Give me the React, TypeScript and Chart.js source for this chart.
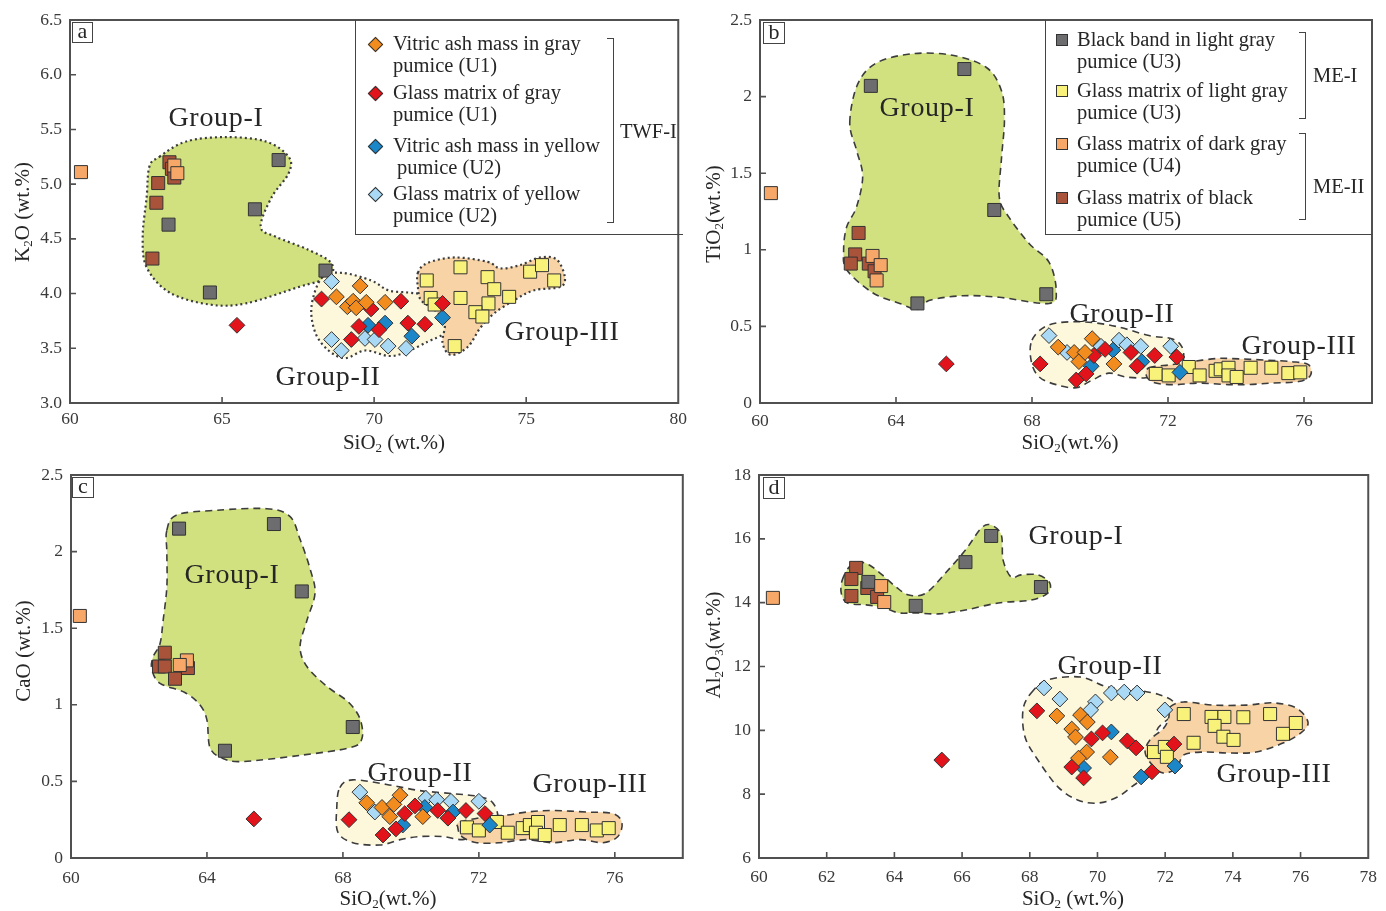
import React, { useEffect, useRef } from 'react';
import { Chart, registerables } from 'chart.js';

Chart.register(...registerables);
Chart.defaults.font.family = "'Liberation Serif', 'Times New Roman', serif";

type P = [number, number];

// ---------------- Series labels ----------------
const SERIES_LABELS = [
  'Vitric ash mass in gray pumice (U1)',
  'Glass matrix of gray pumice (U1)',
  'Vitric ash mass in yellow pumice (U2)',
  'Glass matrix of yellow pumice (U2)',
  'Glass matrix of dark gray pumice (U4)',
  'Glass matrix of light gray pumice (U3)',
  'Black band in light gray pumice (U3)',
  'Glass matrix of black pumice (U5)',
];
const SERIES_SHAPES = ['rectRot', 'rectRot', 'rectRot', 'rectRot', 'rect', 'rect', 'rect', 'rect'];
const SERIES_COLORS = ['#f28c1e', '#e3131b', '#1b87c9', '#a9d9f5', '#f7a868', '#f9f27a', '#6d6d70', '#a9533a'];

// ---------------- Panel a : K2O vs SiO2 ----------------
const A_X_TICKS = [60, 65, 70, 75, 80];
const A_X_LABELS = ['60', '65', '70', '75', '80'];
const A_Y_TICKS = [3.0, 3.5, 4.0, 4.5, 5.0, 5.5, 6.0, 6.5];
const A_Y_LABELS = ['3.0', '3.5', '4.0', '4.5', '5.0', '5.5', '6.0', '6.5'];
const A_ORANGE: P[] = [[69.54, 4.07], [68.76, 3.97], [69.12, 3.88], [69.31, 3.93], [69.41, 3.87], [69.74, 3.92], [70.36, 3.92]];
const A_RED: P[] = [[65.49, 3.71], [68.27, 3.95], [69.9, 3.86], [70.88, 3.93], [69.5, 3.70], [70.16, 3.67], [71.11, 3.73], [71.67, 3.72], [69.25, 3.58], [72.25, 3.91]];
const A_BLUE: P[] = [[69.8, 3.71], [70.36, 3.73], [71.24, 3.61], [72.25, 3.78]];
const A_LIGHTBLUE: P[] = [[68.6, 4.11], [68.6, 3.58], [68.92, 3.48], [69.7, 3.59], [70.03, 3.58], [70.46, 3.52], [71.05, 3.50]];
const A_LIGHTORANGE: P[] = [[60.36, 5.11], [63.43, 5.17], [63.53, 5.10]];
const A_YELLOW: P[] = [[71.73, 4.12], [72.84, 4.24], [73.73, 4.15], [73.95, 4.04], [75.13, 4.20], [75.52, 4.26], [75.92, 4.12], [74.44, 3.97], [72.84, 3.96], [71.86, 3.96], [71.99, 3.90], [73.76, 3.91], [73.33, 3.83], [73.56, 3.79], [72.65, 3.52]];
const A_GRAY: P[] = [[66.86, 5.22], [66.08, 4.77], [63.24, 4.63], [64.6, 4.01], [68.4, 4.21]];
const A_BROWN: P[] = [[63.27, 5.20], [63.35, 5.14], [63.43, 5.06], [62.9, 5.01], [62.84, 4.83], [62.71, 4.32]];
const A_GROUP1: P[] = [[62.94, 5.25], [63.82, 5.39], [65.13, 5.43], [66.44, 5.39], [67.19, 5.25], [67.19, 5.10], [66.63, 4.88], [66.27, 4.61], [66.76, 4.52], [67.84, 4.40], [68.59, 4.28], [68.50, 4.15], [67.52, 4.06], [65.78, 3.91], [64.58, 3.90], [63.27, 4.01], [62.52, 4.24], [62.39, 4.52], [62.52, 4.88], [62.61, 5.16]];
const A_GROUP2: P[] = [[68.27, 4.14], [68.92, 4.19], [69.90, 4.12], [70.46, 4.03], [71.11, 4.01], [71.67, 3.99], [72.25, 3.94], [72.58, 3.78], [72.32, 3.64], [71.76, 3.56], [71.01, 3.46], [70.46, 3.43], [69.71, 3.48], [69.05, 3.41], [68.50, 3.48], [68.07, 3.64], [67.94, 3.88]];
const A_GROUP3: P[] = [[71.44, 4.19], [71.76, 4.28], [72.65, 4.33], [73.73, 4.29], [74.15, 4.23], [74.80, 4.26], [75.46, 4.33], [76.01, 4.31], [76.27, 4.15], [76.11, 4.06], [75.26, 4.03], [74.61, 3.94], [73.95, 3.82], [73.50, 3.69], [73.07, 3.51], [72.52, 3.44], [72.25, 3.55], [72.32, 3.73], [71.99, 3.85], [71.54, 3.94], [71.44, 4.06]];

// ---------------- Panel b : TiO2 vs SiO2 ----------------
const B_X_TICKS = [60, 64, 68, 72, 76];
const B_X_LABELS = ['60', '64', '68', '72', '76'];
const B_Y_TICKS = [0, 0.5, 1, 1.5, 2, 2.5];
const B_Y_LABELS = ['0', '0.5', '1', '1.5', '2', '2.5'];
const B_ORANGE: P[] = [[68.77, 0.365], [69.24, 0.33], [69.38, 0.27], [69.56, 0.33], [69.77, 0.42], [70.41, 0.255]];
const B_RED: P[] = [[65.48, 0.255], [68.24, 0.255], [69.30, 0.15], [69.59, 0.19], [69.82, 0.31], [70.15, 0.35], [70.91, 0.33], [71.09, 0.24], [71.61, 0.31], [72.26, 0.30]];
const B_BLUE: P[] = [[69.74, 0.24], [70.38, 0.345], [71.23, 0.27], [72.35, 0.20]];
const B_LIGHTBLUE: P[] = [[68.5, 0.44], [69.03, 0.33], [70.03, 0.37], [70.56, 0.41], [70.79, 0.38], [71.2, 0.37], [72.08, 0.37]];
const B_LIGHTORANGE: P[] = [[60.32, 1.37], [63.31, 0.96], [63.55, 0.90], [63.43, 0.80]];
const B_YELLOW: P[] = [[71.64, 0.19], [72.02, 0.18], [72.61, 0.235], [72.93, 0.18], [73.40, 0.21], [73.55, 0.22], [73.78, 0.23], [73.78, 0.18], [74.02, 0.17], [74.43, 0.23], [75.04, 0.23], [75.54, 0.195], [75.89, 0.20]];
const B_GRAY: P[] = [[63.26, 2.07], [66.01, 2.18], [66.89, 1.26], [64.63, 0.65], [68.42, 0.71]];
const B_BROWN: P[] = [[62.9, 1.11], [62.8, 0.97], [62.67, 0.91], [63.2, 0.91], [63.37, 0.86]];
const B_GROUP1: P[] = [[62.64, 1.83], [62.87, 2.08], [63.43, 2.22], [64.49, 2.28], [65.66, 2.27], [66.66, 2.19], [67.10, 2.04], [67.19, 1.85], [67.10, 1.59], [67.04, 1.34], [67.33, 1.21], [67.92, 1.04], [68.50, 0.92], [68.71, 0.74], [68.50, 0.65], [67.04, 0.69], [65.95, 0.70], [64.99, 0.67], [64.63, 0.61], [64.11, 0.65], [63.31, 0.72], [62.55, 0.87], [62.46, 1.00], [62.55, 1.15], [62.84, 1.28], [63.02, 1.48], [62.84, 1.65]];
const B_GROUP2: P[] = [[68.0, 0.41], [68.5, 0.51], [69.47, 0.53], [70.47, 0.50], [71.44, 0.44], [72.11, 0.42], [72.40, 0.37], [72.46, 0.29], [72.32, 0.235], [71.82, 0.195], [71.35, 0.165], [70.76, 0.17], [70.26, 0.195], [69.77, 0.15], [69.30, 0.10], [68.71, 0.12], [68.21, 0.17], [67.98, 0.27]];
const B_GROUP3: P[] = [[71.44, 0.23], [72.11, 0.25], [72.70, 0.27], [73.40, 0.29], [73.87, 0.29], [74.87, 0.28], [75.63, 0.27], [76.13, 0.25], [76.19, 0.18], [75.84, 0.14], [75.04, 0.13], [74.37, 0.12], [73.78, 0.12], [72.90, 0.13], [72.23, 0.12], [71.64, 0.13], [71.38, 0.17]];

// ---------------- Panel c : CaO vs SiO2 ----------------
const C_X_TICKS = [60, 64, 68, 72, 76];
const C_X_LABELS = ['60', '64', '68', '72', '76'];
const C_Y_TICKS = [0, 0.5, 1, 1.5, 2, 2.5];
const C_Y_LABELS = ['0', '0.5', '1', '1.5', '2', '2.5'];
const C_ORANGE: P[] = [[68.7, 0.36], [69.15, 0.33], [69.38, 0.27], [69.5, 0.35], [69.68, 0.41], [70.35, 0.27]];
const C_RED: P[] = [[65.38, 0.255], [68.18, 0.25], [69.18, 0.15], [69.56, 0.19], [69.82, 0.29], [70.12, 0.34], [70.79, 0.31], [71.09, 0.26], [71.62, 0.31], [72.18, 0.29]];
const C_BLUE: P[] = [[69.76, 0.215], [70.41, 0.33], [71.24, 0.30], [72.32, 0.215]];
const C_LIGHTBLUE: P[] = [[68.5, 0.43], [68.94, 0.30], [70.44, 0.39], [70.76, 0.38], [71.18, 0.37], [72.0, 0.37]];
const C_LIGHTORANGE: P[] = [[60.26, 1.58], [63.41, 1.29], [63.2, 1.26]];
const C_YELLOW: P[] = [[71.65, 0.20], [72.0, 0.18], [72.53, 0.235], [72.85, 0.165], [73.29, 0.195], [73.5, 0.215], [73.74, 0.235], [73.68, 0.165], [73.94, 0.15], [74.38, 0.215], [75.03, 0.215], [75.47, 0.18], [75.82, 0.195]];
const C_GRAY: P[] = [[63.18, 2.15], [65.97, 2.18], [66.79, 1.74], [64.53, 0.70], [68.29, 0.855]];
const C_BROWN: P[] = [[62.76, 1.34], [62.59, 1.25], [62.76, 1.25], [63.06, 1.17], [63.44, 1.24]];
const C_GROUP1: P[] = [[62.82, 2.14], [63.12, 2.24], [64.29, 2.27], [65.76, 2.28], [66.44, 2.23], [66.74, 2.08], [67.03, 1.89], [67.18, 1.73], [66.94, 1.55], [66.74, 1.38], [66.94, 1.25], [67.53, 1.12], [68.15, 1.02], [68.5, 0.91], [68.56, 0.78], [68.21, 0.72], [66.74, 0.67], [65.06, 0.63], [64.47, 0.65], [64.09, 0.72], [64.0, 0.90], [63.79, 1.00], [63.35, 1.08], [62.62, 1.14], [62.38, 1.23], [62.41, 1.31], [62.62, 1.40], [62.71, 1.55], [62.82, 1.77], [62.82, 1.99]];
const C_GROUP2: P[] = [[67.91, 0.46], [68.29, 0.51], [69.29, 0.48], [70.26, 0.44], [71.24, 0.42], [72.03, 0.40], [72.41, 0.36], [72.56, 0.27], [72.41, 0.20], [71.94, 0.16], [71.53, 0.12], [70.94, 0.14], [70.26, 0.14], [69.68, 0.12], [69.09, 0.085], [68.29, 0.10], [67.85, 0.17], [67.82, 0.33]];
const C_GROUP3: P[] = [[71.44, 0.235], [72.24, 0.27], [72.82, 0.28], [73.41, 0.30], [74.18, 0.31], [75.18, 0.30], [75.94, 0.29], [76.21, 0.23], [76.09, 0.14], [75.65, 0.10], [74.97, 0.12], [74.18, 0.10], [73.41, 0.12], [72.62, 0.10], [71.94, 0.10], [71.5, 0.14], [71.38, 0.20]];

// ---------------- Panel d : Al2O3 vs SiO2 ----------------
const D_X_TICKS = [60, 62, 64, 66, 68, 70, 72, 74, 76, 78];
const D_X_LABELS = ['60', '62', '64', '66', '68', '70', '72', '74', '76', '78'];
const D_Y_TICKS = [6, 8, 10, 12, 14, 16, 18];
const D_Y_LABELS = ['6', '8', '10', '12', '14', '16', '18'];
const D_ORANGE: P[] = [[68.8, 10.45], [69.5, 10.48], [69.7, 10.26], [69.24, 10.04], [69.35, 9.79], [69.68, 9.32], [69.44, 9.13], [70.38, 9.16]];
const D_RED: P[] = [[65.4, 9.07], [68.21, 10.61], [69.82, 9.73], [70.15, 9.92], [70.88, 9.67], [71.14, 9.45], [69.24, 8.85], [69.59, 8.51], [71.61, 8.70], [72.26, 9.57]];
const D_BLUE: P[] = [[70.41, 9.95], [69.59, 8.82], [71.29, 8.54], [72.29, 8.88]];
const D_LIGHTBLUE: P[] = [[68.42, 11.33], [68.89, 10.98], [69.94, 10.89], [69.8, 10.64], [70.41, 11.17], [70.79, 11.2], [71.17, 11.17], [71.99, 10.64]];
const D_LIGHTORANGE: P[] = [[60.41, 14.15], [63.61, 14.52], [63.70, 14.02]];
const D_YELLOW: P[] = [[72.55, 10.51], [73.37, 10.42], [73.75, 10.42], [74.31, 10.41], [75.1, 10.51], [75.86, 10.23], [75.48, 9.89], [73.46, 10.14], [73.72, 9.80], [74.02, 9.70], [72.84, 9.61], [71.67, 9.32], [71.99, 9.48], [72.05, 9.17]];
const D_GRAY: P[] = [[63.23, 14.65], [64.63, 13.9], [66.1, 15.27], [66.86, 16.09], [68.33, 14.49]];
const D_BROWN: P[] = [[62.87, 15.09], [62.73, 14.74], [62.73, 14.21], [63.2, 14.46], [63.49, 14.18]];
const D_GROUP1: P[] = [[62.46, 14.71], [62.67, 15.12], [62.96, 15.27], [63.26, 15.18], [63.64, 14.87], [64.05, 14.49], [64.43, 14.24], [64.93, 14.30], [65.51, 14.93], [66.1, 15.65], [66.57, 16.34], [66.86, 16.43], [67.16, 16.12], [67.21, 15.34], [67.45, 14.80], [67.74, 14.87], [68.24, 14.87], [68.59, 14.62], [68.53, 14.30], [68.04, 14.08], [67.07, 13.99], [66.1, 13.77], [65.31, 13.65], [64.63, 13.68], [64.13, 13.68], [63.64, 13.86], [63.17, 13.93], [62.61, 13.99], [62.43, 14.30]];
const D_GROUP2: P[] = [[68.04, 11.17], [68.53, 11.58], [69.5, 11.67], [70.29, 11.36], [71.17, 11.26], [71.85, 11.11], [72.26, 10.86], [72.14, 10.42], [71.76, 10.01], [71.91, 9.45], [72.2, 9.01], [71.76, 8.66], [71.17, 8.35], [70.59, 7.91], [70.0, 7.72], [69.41, 7.82], [68.83, 8.23], [68.24, 9.07], [67.86, 9.79], [67.8, 10.64]];
const D_GROUP3: P[] = [[72.14, 10.73], [72.55, 10.89], [73.43, 10.79], [74.4, 10.79], [75.19, 10.86], [75.87, 10.70], [76.22, 10.26], [76.01, 9.92], [75.48, 9.60], [74.69, 9.32], [73.9, 9.29], [73.14, 9.32], [72.55, 9.23], [72.35, 8.82], [71.96, 8.66], [71.67, 8.85], [71.41, 9.29], [71.55, 9.70], [71.96, 10.07], [72.11, 10.42]];

const REGION_FILLS = ['#d1e17f', '#fdf8db', '#f8d3a5'];

// ---------------- Panel configuration ----------------
interface PanelCfg {
  left: number; top: number; width: number; height: number;
  area: { left: number; top: number; right: number; bottom: number };
  x: [number, number]; y: [number, number];
  xTicks: number[]; xLabels: string[]; yTicks: number[]; yLabels: string[];
  xPad: number;
  series: P[][];
  regions: P[][];
  dash: number[]; dashWidth: number;
}

const PANELS: PanelCfg[] = [
  {
    left: 0, top: 0, width: 693, height: 455,
    area: { left: 70, top: 20, right: 683, bottom: 403 },
    x: [60, 80], y: [3, 6.5],
    xTicks: A_X_TICKS, xLabels: A_X_LABELS, yTicks: A_Y_TICKS, yLabels: A_Y_LABELS, xPad: 6,
    series: [A_ORANGE, A_RED, A_BLUE, A_LIGHTBLUE, A_LIGHTORANGE, A_YELLOW, A_GRAY, A_BROWN],
    regions: [A_GROUP1, A_GROUP2, A_GROUP3], dash: [2, 3], dashWidth: 2.2,
  },
  {
    left: 693, top: 0, width: 693, height: 455,
    area: { left: 67, top: 20, right: 679, bottom: 403 },
    x: [60, 78], y: [0, 2.5],
    xTicks: B_X_TICKS, xLabels: B_X_LABELS, yTicks: B_Y_TICKS, yLabels: B_Y_LABELS, xPad: 8,
    series: [B_ORANGE, B_RED, B_BLUE, B_LIGHTBLUE, B_LIGHTORANGE, B_YELLOW, B_GRAY, B_BROWN],
    regions: [B_GROUP1, B_GROUP2, B_GROUP3], dash: [7, 5], dashWidth: 1.6,
  },
  {
    left: 0, top: 455, width: 693, height: 456,
    area: { left: 71, top: 20, right: 683, bottom: 403 },
    x: [60, 78], y: [0, 2.5],
    xTicks: C_X_TICKS, xLabels: C_X_LABELS, yTicks: C_Y_TICKS, yLabels: C_Y_LABELS, xPad: 10,
    series: [C_ORANGE, C_RED, C_BLUE, C_LIGHTBLUE, C_LIGHTORANGE, C_YELLOW, C_GRAY, C_BROWN],
    regions: [C_GROUP1, C_GROUP2, C_GROUP3], dash: [7, 5], dashWidth: 1.6,
  },
  {
    left: 693, top: 455, width: 693, height: 456,
    area: { left: 66, top: 20, right: 680, bottom: 403 },
    x: [60, 78], y: [6, 18],
    xTicks: D_X_TICKS, xLabels: D_X_LABELS, yTicks: D_Y_TICKS, yLabels: D_Y_LABELS, xPad: 9,
    series: [D_ORANGE, D_RED, D_BLUE, D_LIGHTBLUE, D_LIGHTORANGE, D_YELLOW, D_GRAY, D_BROWN],
    regions: [D_GROUP1, D_GROUP2, D_GROUP3], dash: [7, 5], dashWidth: 1.6,
  },
];

// ---------------- Plugins ----------------
const regionPlugin = {
  id: 'regions',
  beforeDatasetsDraw(chart: any, _args: any, opts: any) {
    const { ctx, chartArea, scales } = chart;
    const shapes: P[][] = opts.shapes || [];
    ctx.save();
    ctx.beginPath();
    ctx.rect(chartArea.left, chartArea.top, chartArea.right - chartArea.left, chartArea.bottom - chartArea.top);
    ctx.clip();
    shapes.forEach((shape, si) => {
      const pts = shape.map(([x, y]) => ({ x: scales.x.getPixelForValue(x), y: scales.y.getPixelForValue(y) }));
      const n = pts.length;
      ctx.beginPath();
      ctx.moveTo(pts[0].x, pts[0].y);
      for (let i = 0; i < n; i++) {
        const p0 = pts[(i - 1 + n) % n], p1 = pts[i], p2 = pts[(i + 1) % n], p3 = pts[(i + 2) % n];
        const t = 1 / 6;
        ctx.bezierCurveTo(
          p1.x + (p2.x - p0.x) * t, p1.y + (p2.y - p0.y) * t,
          p2.x - (p3.x - p1.x) * t, p2.y - (p3.y - p1.y) * t,
          p2.x, p2.y);
      }
      ctx.closePath();
      ctx.fillStyle = REGION_FILLS[si];
      ctx.fill();
      ctx.setLineDash(opts.dash);
      ctx.lineWidth = opts.width;
      ctx.strokeStyle = '#3c3c3c';
      ctx.stroke();
    });
    ctx.restore();
  },
};

const framePlugin = {
  id: 'frame',
  afterDraw(chart: any) {
    const { ctx, chartArea, scales } = chart;
    ctx.save();
    ctx.strokeStyle = '#505050';
    ctx.lineWidth = 1.6;
    ctx.beginPath();
    scales.x.ticks.forEach((t: any) => {
      const px = scales.x.getPixelForValue(t.value);
      if (px > chartArea.left + 1 && px < chartArea.right - 1) {
        ctx.moveTo(px, chartArea.bottom);
        ctx.lineTo(px, chartArea.bottom - 6);
      }
    });
    scales.y.ticks.forEach((t: any) => {
      const py = scales.y.getPixelForValue(t.value);
      if (py > chartArea.top + 1 && py < chartArea.bottom - 1) {
        ctx.moveTo(chartArea.left, py);
        ctx.lineTo(chartArea.left + 6, py);
      }
    });
    ctx.stroke();
    ctx.lineWidth = 2;
    ctx.strokeRect(chartArea.left, chartArea.top, chartArea.right - chartArea.left, chartArea.bottom - chartArea.top);
    ctx.restore();
  },
};

function Panel({ cfg }: { cfg: PanelCfg }) {
  const ref = useRef<HTMLCanvasElement>(null);
  useEffect(() => {
    const tickFont = { size: 17.5, family: "'Liberation Serif', 'Times New Roman', serif" };
    const chart = new Chart(ref.current as HTMLCanvasElement, {
      type: 'scatter',
      data: {
        datasets: cfg.series.map((pts, i) => ({
          label: SERIES_LABELS[i],
          data: pts.map(([x, y]) => ({ x, y })),
          pointStyle: SERIES_SHAPES[i] as any,
          pointRadius: SERIES_SHAPES[i] === 'rect' ? 9.2 : 7.9,
          pointBackgroundColor: SERIES_COLORS[i],
          pointBorderColor: '#333333',
          pointBorderWidth: 1,
          showLine: false,
        })),
      },
      options: {
        responsive: false,
        animation: false,
        events: [],
        layout: { padding: { left: 0, top: cfg.area.top, right: cfg.width - cfg.area.right, bottom: 0 } },
        scales: {
          x: {
            type: 'linear', min: cfg.x[0], max: cfg.x[1],
            afterFit: (s: any) => { s.height = cfg.height - cfg.area.bottom; },
            afterBuildTicks: (s: any) => { s.ticks = cfg.xTicks.map((v) => ({ value: v })); },
            grid: { display: false, drawTicks: false },
            border: { display: false },
            ticks: { font: tickFont, color: '#3a3a3a', padding: cfg.xPad, autoSkip: false, maxRotation: 0, callback: (_v: any, i: number) => cfg.xLabels[i] },
          },
          y: {
            type: 'linear', min: cfg.y[0], max: cfg.y[1],
            afterFit: (s: any) => { s.width = cfg.area.left; },
            afterBuildTicks: (s: any) => { s.ticks = cfg.yTicks.map((v) => ({ value: v })); },
            grid: { display: false, drawTicks: false },
            border: { display: false },
            ticks: { font: tickFont, color: '#3a3a3a', padding: 8, autoSkip: false, callback: (_v: any, i: number) => cfg.yLabels[i] },
          },
        },
        plugins: {
          legend: { display: false },
          tooltip: { enabled: false },
          regions: { shapes: cfg.regions, dash: cfg.dash, width: cfg.dashWidth },
        } as any,
      },
      plugins: [regionPlugin, framePlugin],
    });
    return () => chart.destroy();
  }, [cfg]);
  return (
    <canvas
      ref={ref}
      width={cfg.width}
      height={cfg.height}
      style={{ position: 'absolute', left: cfg.left, top: cfg.top, width: cfg.width, height: cfg.height }}
    />
  );
}

// ---------------- Overlay text ----------------
const SERIF = "'Liberation Serif', 'Times New Roman', serif";
const TXT = '#262626';

function T({ x, y, children, size = 20.5, center = true, rotate = false, style = {} }: any) {
  const transform = rotate ? 'translate(-50%, -50%) rotate(-90deg)' : center ? 'translate(-50%, -50%)' : 'translate(0, -50%)';
  return (
    <div style={{ position: 'absolute', left: x, top: y, transform, fontFamily: SERIF, fontSize: size, color: TXT, whiteSpace: 'nowrap', lineHeight: 1, ...style }}>
      {children}
    </div>
  );
}

const Sub = ({ c }: { c: string }) => <span style={{ fontSize: '0.62em', verticalAlign: '-0.3em' }}>{c}</span>;

function LetterBox({ x, y, w, h, t }: any) {
  return (
    <div style={{ position: 'absolute', left: x, top: y, width: w, height: h, border: '1.5px solid #444', boxSizing: 'border-box', fontFamily: SERIF, fontSize: 22, lineHeight: `${h - 5}px`, textAlign: 'center', color: TXT, background: 'white' }}>{t}</div>
  );
}

function Diamond({ x, y, color }: any) {
  return <div style={{ position: 'absolute', left: x - 5.5, top: y - 5.5, width: 11, height: 11, boxSizing: 'border-box', border: '1px solid #333', background: color, transform: 'rotate(45deg)' }} />;
}
function Square({ x, y, color }: any) {
  return <div style={{ position: 'absolute', left: x - 6, top: y - 6, width: 12, height: 12, boxSizing: 'border-box', border: '1px solid #333', background: color }} />;
}
function Bracket({ x, y1, y2 }: any) {
  return <div style={{ position: 'absolute', left: x - 7, top: y1, width: 7, height: y2 - y1, borderTop: '1.5px solid #444', borderRight: '1.5px solid #444', borderBottom: '1.5px solid #444', boxSizing: 'border-box' }} />;
}

const LEGEND_A = [
  { y: 43, lines: ['Vitric ash mass in gray', 'pumice (U1)'], c: 0, indent: 0 },
  { y: 92, lines: ['Glass matrix of gray', 'pumice (U1)'], c: 1, indent: 0 },
  { y: 145, lines: ['Vitric ash mass in yellow', 'pumice (U2)'], c: 2, indent: 4 },
  { y: 193, lines: ['Glass matrix of yellow', 'pumice (U2)'], c: 3, indent: 0 },
];
const LEGEND_B = [
  { y: 39, lines: ['Black band in light gray', 'pumice (U3)'], c: 6 },
  { y: 90, lines: ['Glass matrix of light gray', 'pumice (U3)'], c: 5 },
  { y: 143, lines: ['Glass matrix of dark gray', 'pumice (U4)'], c: 4 },
  { y: 197, lines: ['Glass matrix of black', 'pumice (U5)'], c: 7 },
];

const GROUP_LABELS: { x: number; y: number; t: string }[] = [
  { x: 216, y: 117, t: 'Group-I' }, { x: 328, y: 376, t: 'Group-II' }, { x: 562, y: 331, t: 'Group-III' },
  { x: 927, y: 107, t: 'Group-I' }, { x: 1122, y: 313, t: 'Group-II' }, { x: 1299, y: 345, t: 'Group-III' },
  { x: 232, y: 574, t: 'Group-I' }, { x: 420, y: 772, t: 'Group-II' }, { x: 590, y: 783, t: 'Group-III' },
  { x: 1076, y: 535, t: 'Group-I' }, { x: 1110, y: 665, t: 'Group-II' }, { x: 1274, y: 773, t: 'Group-III' },
];

export default function App() {
  useEffect(() => {
    document.body.style.margin = '0';
  }, []);
  return (
    <div style={{ position: 'absolute', left: 0, top: 0, width: 1386, height: 911, background: 'white', overflow: 'hidden' }}>
      {PANELS.map((p, i) => <Panel key={i} cfg={p} />)}

      {GROUP_LABELS.map((g, i) => (
        <T key={i} x={g.x} y={g.y} size={28} style={{ letterSpacing: '0.7px' }}>{g.t}</T>
      ))}

      {/* panel letters */}
      <LetterBox x={72} y={22} w={21} h={21} t="a" />
      <LetterBox x={763} y={22} w={22} h={22} t="b" />
      <LetterBox x={72} y={477} w={22} h={21} t="c" />
      <LetterBox x={763} y={477} w={22} h={22} t="d" />

      {/* axis titles */}
      <T x={394} y={443} size={21}>SiO<Sub c="2" /> (wt.%)</T>
      <T x={1070} y={443} size={21}>SiO<Sub c="2" />(wt.%)</T>
      <T x={388} y={899} size={21}>SiO<Sub c="2" />(wt.%)</T>
      <T x={1073} y={899} size={21}>SiO<Sub c="2" /> (wt.%)</T>
      <T x={23} y={212} size={21} rotate>K<Sub c="2" />O (wt.%)</T>
      <T x={714} y={214} size={21} rotate>TiO<Sub c="2" />(wt.%)</T>
      <T x={23} y={651} size={21} rotate>CaO (wt.%)</T>
      <T x={714} y={645} size={21} rotate>Al<Sub c="2" />O<Sub c="3" />(wt.%)</T>

      {/* legend a */}
      <div style={{ position: 'absolute', left: 355, top: 20, width: 328, height: 215, borderLeft: '1.5px solid #444', borderBottom: '1.5px solid #444', boxSizing: 'border-box' }} />
      {LEGEND_A.map((it, i) => (
        <React.Fragment key={i}>
          <Diamond x={375} y={it.y + 1} color={SERIES_COLORS[it.c]} />
          <T x={393} y={it.y} center={false}>{it.lines[0]}</T>
          <T x={393 + it.indent} y={it.y + 21.5} center={false}>{it.lines[1]}</T>
        </React.Fragment>
      ))}
      <Bracket x={614} y1={38} y2={223} />
      <T x={620} y={131} center={false}>TWF-I</T>

      {/* legend b */}
      <div style={{ position: 'absolute', left: 1045, top: 20, width: 327, height: 215, borderLeft: '1.5px solid #444', borderBottom: '1.5px solid #444', boxSizing: 'border-box' }} />
      {LEGEND_B.map((it, i) => (
        <React.Fragment key={i}>
          <Square x={1062} y={it.y + 1} color={SERIES_COLORS[it.c]} />
          <T x={1077} y={it.y} center={false}>{it.lines[0]}</T>
          <T x={1077} y={it.y + 22} center={false}>{it.lines[1]}</T>
        </React.Fragment>
      ))}
      <Bracket x={1306} y1={32} y2={119} />
      <Bracket x={1306} y1={133} y2={220} />
      <T x={1313} y={75} center={false}>ME-I</T>
      <T x={1313} y={186} center={false}>ME-II</T>
    </div>
  );
}
